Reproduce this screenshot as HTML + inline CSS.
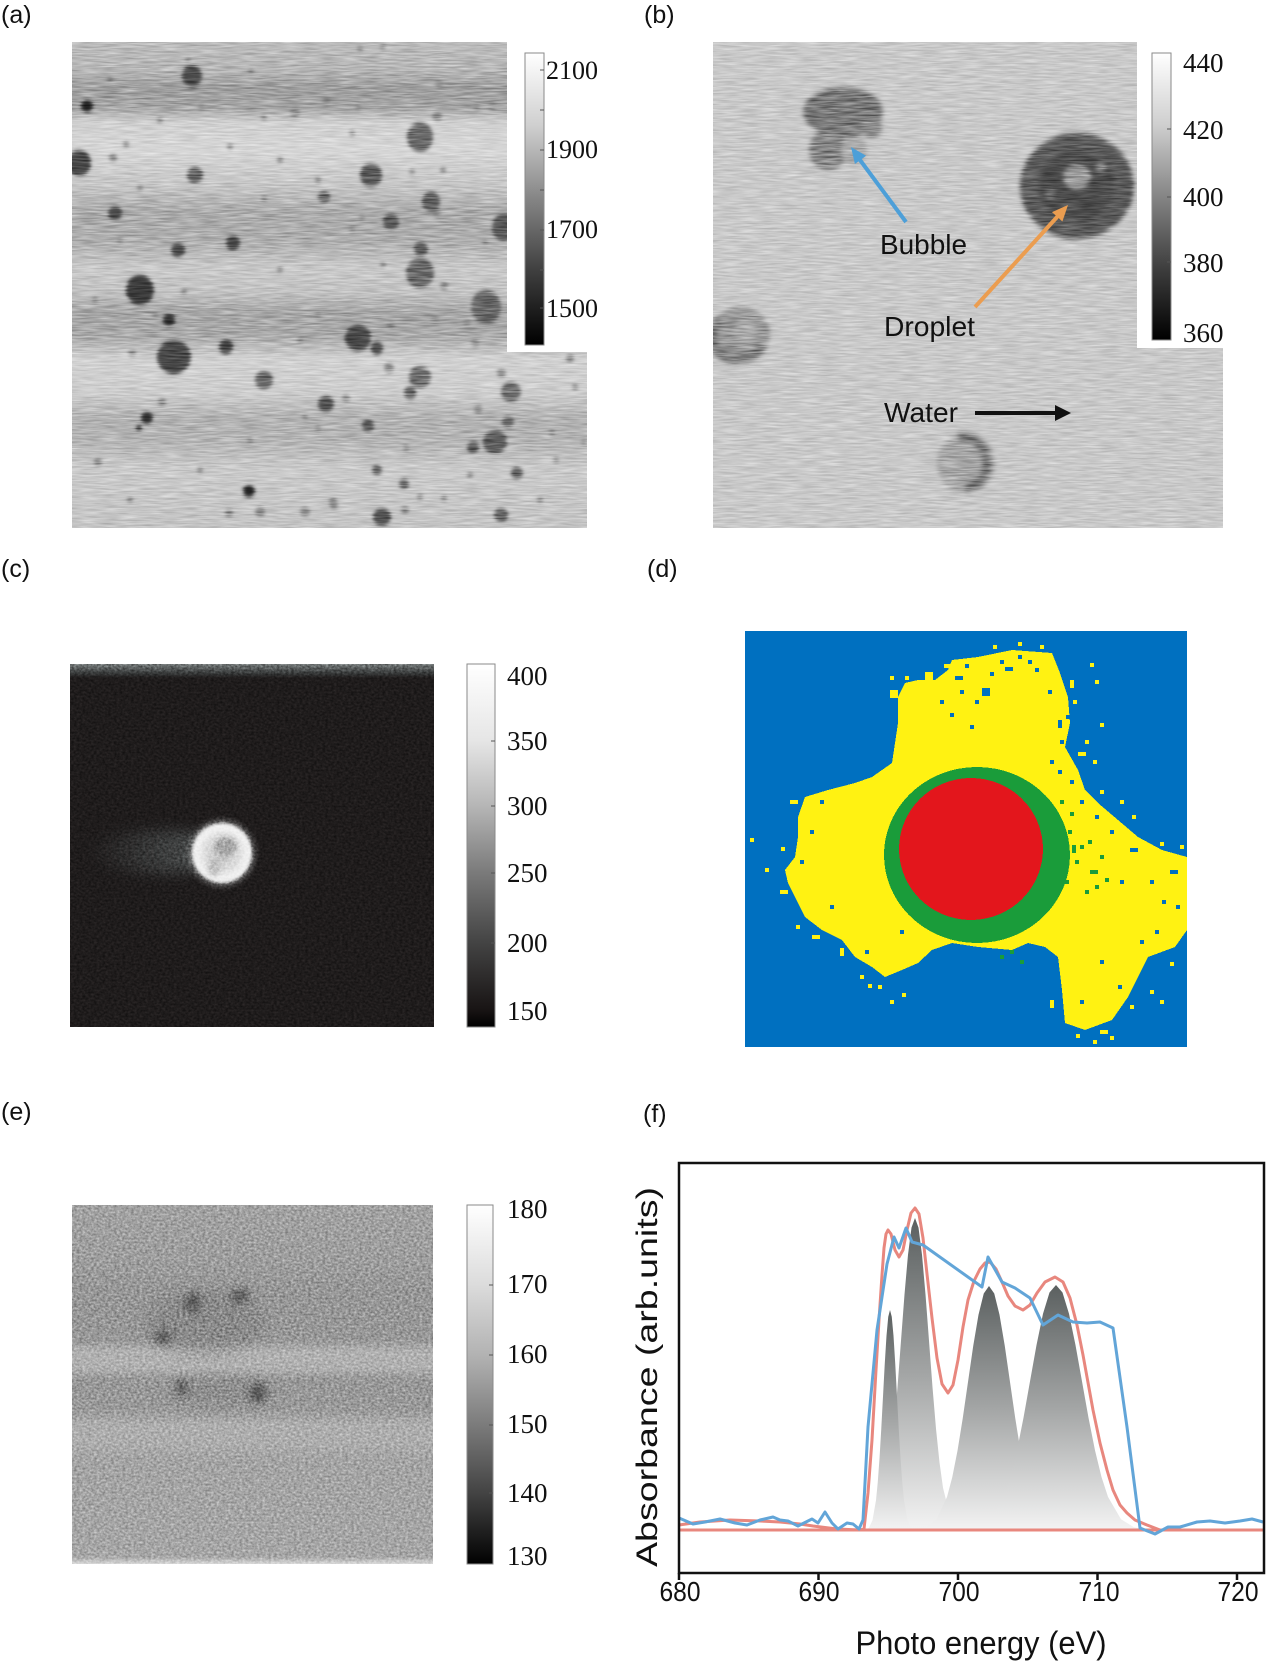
<!DOCTYPE html>
<html><head><meta charset="utf-8">
<style>
html,body{margin:0;padding:0;background:#fff;}
svg{display:block;}
.sans{font-family:"Liberation Sans",Arial,sans-serif;}
.serif{font-family:"Liberation Serif","Times New Roman",serif;}
</style></head>
<body>
<svg width="1269" height="1663" viewBox="0 0 1269 1663" xmlns="http://www.w3.org/2000/svg">
<defs>
  <filter id="nzH" x="0" y="0" width="1" height="1" color-interpolation-filters="sRGB">
    <feTurbulence type="fractalNoise" baseFrequency="0.05 0.6" numOctaves="2" seed="7" result="t"/>
    <feColorMatrix in="t" type="matrix" values="1 0 0 0 0  1 0 0 0 0  1 0 0 0 0  0 0 0 0 1" result="g"/>
    <feComponentTransfer in="g" result="g2">
      <feFuncR type="linear" slope="0.6" intercept="0.2"/>
      <feFuncG type="linear" slope="0.6" intercept="0.2"/>
      <feFuncB type="linear" slope="0.6" intercept="0.2"/>
    </feComponentTransfer>
    <feBlend in="g2" in2="SourceGraphic" mode="overlay" result="b"/>
    <feComposite in="b" in2="SourceGraphic" operator="in"/>
  </filter>
  <filter id="nzE" x="0" y="0" width="1" height="1" color-interpolation-filters="sRGB">
    <feTurbulence type="fractalNoise" baseFrequency="0.35 0.5" numOctaves="2" seed="3" result="t"/>
    <feColorMatrix in="t" type="matrix" values="1 0 0 0 0  1 0 0 0 0  1 0 0 0 0  0 0 0 0 1" result="g"/>
    <feComponentTransfer in="g" result="g2">
      <feFuncR type="linear" slope="0.6" intercept="0.2"/>
      <feFuncG type="linear" slope="0.6" intercept="0.2"/>
      <feFuncB type="linear" slope="0.6" intercept="0.2"/>
    </feComponentTransfer>
    <feBlend in="g2" in2="SourceGraphic" mode="overlay" result="b"/>
    <feComposite in="b" in2="SourceGraphic" operator="in"/>
  </filter>
  <filter id="b1" x="-50%" y="-50%" width="200%" height="200%"><feGaussianBlur stdDeviation="1.3"/></filter>
  <filter id="b15" x="-50%" y="-50%" width="200%" height="200%"><feGaussianBlur stdDeviation="1.8"/></filter>
  <filter id="b2" x="-50%" y="-50%" width="200%" height="200%"><feGaussianBlur stdDeviation="2.5"/></filter>
  <filter id="b4" x="-50%" y="-50%" width="200%" height="200%"><feGaussianBlur stdDeviation="4"/></filter>
  <filter id="b7" x="-50%" y="-50%" width="200%" height="200%"><feGaussianBlur stdDeviation="7"/></filter>

  <clipPath id="cA"><rect x="72" y="42" width="515" height="486"/></clipPath>
  <clipPath id="cB"><rect x="713" y="42" width="510" height="486"/></clipPath>
  <clipPath id="cC"><rect x="70" y="664" width="364" height="363"/></clipPath>
  <clipPath id="cE"><rect x="72" y="1205" width="361" height="359"/></clipPath>

  <linearGradient id="gA" x1="0" y1="0" x2="0" y2="1">
    <stop offset="0" stop-color="#bcbcbc"/>
    <stop offset="0.058" stop-color="#b6b6b6"/>
    <stop offset="0.095" stop-color="#9e9e9e"/>
    <stop offset="0.136" stop-color="#a6a6a6"/>
    <stop offset="0.165" stop-color="#d0d0d0"/>
    <stop offset="0.223" stop-color="#d6d6d6"/>
    <stop offset="0.295" stop-color="#c6c6c6"/>
    <stop offset="0.351" stop-color="#ababab"/>
    <stop offset="0.408" stop-color="#aeaeae"/>
    <stop offset="0.466" stop-color="#c9c9c9"/>
    <stop offset="0.515" stop-color="#c2c2c2"/>
    <stop offset="0.557" stop-color="#a6a6a6"/>
    <stop offset="0.604" stop-color="#a9a9a9"/>
    <stop offset="0.652" stop-color="#d1d1d1"/>
    <stop offset="0.722" stop-color="#cdcdcd"/>
    <stop offset="0.775" stop-color="#b2b2b2"/>
    <stop offset="0.821" stop-color="#b5b5b5"/>
    <stop offset="0.878" stop-color="#cacaca"/>
    <stop offset="1" stop-color="#c4c4c4"/>
  </linearGradient>
  <linearGradient id="gE" x1="0" y1="0" x2="0" y2="1">
    <stop offset="0" stop-color="#a2a2a2"/>
    <stop offset="0.153" stop-color="#9e9e9e"/>
    <stop offset="0.237" stop-color="#979797"/>
    <stop offset="0.376" stop-color="#989898"/>
    <stop offset="0.409" stop-color="#b1b1b1"/>
    <stop offset="0.454" stop-color="#b0b0b0"/>
    <stop offset="0.487" stop-color="#989898"/>
    <stop offset="0.571" stop-color="#9a9a9a"/>
    <stop offset="0.613" stop-color="#aeaeae"/>
    <stop offset="0.663" stop-color="#adadad"/>
    <stop offset="0.71" stop-color="#a4a4a4"/>
    <stop offset="0.98" stop-color="#a6a6a6"/>
    <stop offset="1" stop-color="#d8d8d8"/>
  </linearGradient>
  <linearGradient id="cbLin" x1="0" y1="0" x2="0" y2="1">
    <stop offset="0" stop-color="#ffffff"/>
    <stop offset="0.25" stop-color="#cfcfcf"/>
    <stop offset="0.5" stop-color="#858585"/>
    <stop offset="0.75" stop-color="#3e3e3e"/>
    <stop offset="1" stop-color="#000000"/>
  </linearGradient>
  <linearGradient id="cbC" x1="0" y1="0" x2="0" y2="1">
    <stop offset="0" stop-color="#ffffff"/>
    <stop offset="0.21" stop-color="#e6e6e6"/>
    <stop offset="0.39" stop-color="#b6b6b6"/>
    <stop offset="0.576" stop-color="#7a7a7a"/>
    <stop offset="0.77" stop-color="#434343"/>
    <stop offset="0.953" stop-color="#181414"/>
    <stop offset="1" stop-color="#000000"/>
  </linearGradient>
  <linearGradient id="cbE" x1="0" y1="0" x2="0" y2="1">
    <stop offset="0" stop-color="#ffffff"/>
    <stop offset="0.22" stop-color="#dcdcdc"/>
    <stop offset="0.42" stop-color="#b2b2b2"/>
    <stop offset="0.61" stop-color="#7c7c7c"/>
    <stop offset="0.80" stop-color="#444444"/>
    <stop offset="0.98" stop-color="#080808"/>
    <stop offset="1" stop-color="#000000"/>
  </linearGradient>
  <linearGradient id="topC" x1="0" y1="0" x2="0" y2="1">
    <stop offset="0" stop-color="#767b7b"/>
    <stop offset="0.6" stop-color="#3c3f3f"/>
    <stop offset="1" stop-color="#1f1c1c"/>
  </linearGradient>
  <linearGradient id="tailC" x1="0" y1="0" x2="1" y2="0">
    <stop offset="0" stop-color="#5a6060" stop-opacity="0"/>
    <stop offset="0.6" stop-color="#5a6060" stop-opacity="0.55"/>
    <stop offset="1" stop-color="#6a7070" stop-opacity="0.8"/>
  </linearGradient>
  <radialGradient id="sph" cx="0.5" cy="0.5" r="0.5">
    <stop offset="0" stop-color="#b8b8b8"/>
    <stop offset="0.55" stop-color="#dcdcdc"/>
    <stop offset="0.85" stop-color="#f2f2f2"/>
    <stop offset="1" stop-color="#e8e8e8"/>
  </radialGradient>
  <linearGradient id="pk" x1="0" y1="0" x2="0" y2="1">
    <stop offset="0" stop-color="#5b6060"/>
    <stop offset="0.5" stop-color="#a3a5a5"/>
    <stop offset="1" stop-color="#f3f3f3"/>
  </linearGradient>
</defs>

<rect x="0" y="0" width="1269" height="1663" fill="#ffffff"/>

<!-- ================= (a) ================= -->
<g clip-path="url(#cA)">
<g filter="url(#nzH)">
  <rect x="72" y="42" width="515" height="486" fill="url(#gA)"/>
  <g filter="url(#b15)">
    <g fill="#8c8c8c">
      <circle cx="360" cy="49" r="3"/><circle cx="383" cy="47" r="3"/><circle cx="188" cy="60" r="3"/>
      <circle cx="251" cy="71" r="3"/><circle cx="439" cy="84" r="4"/><circle cx="326" cy="102" r="4"/>
      <circle cx="295" cy="112" r="5"/><circle cx="201" cy="107" r="3"/><circle cx="358" cy="107" r="3"/>
      <circle cx="492" cy="106" r="4"/><circle cx="477" cy="107" r="3"/><circle cx="264" cy="117" r="3"/>
      <circle cx="437" cy="116" r="5"/><circle cx="126" cy="144" r="3"/><circle cx="352" cy="133" r="3"/>
      <circle cx="230" cy="147" r="3"/><circle cx="113" cy="158" r="4"/><circle cx="412" cy="172" r="3"/>
      <circle cx="443" cy="170" r="3"/><circle cx="318" cy="180" r="3"/><circle cx="140" cy="188" r="3"/>
      <circle cx="264" cy="199" r="3"/><circle cx="437" cy="213" r="4"/><circle cx="362" cy="218" r="3"/>
      <circle cx="352" cy="230" r="3"/><circle cx="485" cy="243" r="3"/><circle cx="383" cy="265" r="3"/>
      <circle cx="444" cy="286" r="4"/><circle cx="184" cy="292" r="3"/><circle cx="435" cy="320" r="4"/>
      <circle cx="391" cy="325" r="4"/><circle cx="467" cy="323" r="4"/><circle cx="155" cy="315" r="3"/>
      <circle cx="318" cy="315" r="3"/><circle cx="132" cy="353" r="4"/><circle cx="475" cy="343" r="4"/>
      <circle cx="570" cy="358" r="4"/><circle cx="347" cy="398" r="3"/><circle cx="502" cy="373" r="4"/>
      <circle cx="575" cy="387" r="3"/><circle cx="479" cy="408" r="3"/><circle cx="305" cy="417" r="3"/>
      <circle cx="318" cy="428" r="3"/><circle cx="552" cy="433" r="3"/><circle cx="162" cy="402" r="4"/>
      <circle cx="406" cy="448" r="3"/><circle cx="556" cy="460" r="3"/><circle cx="98" cy="462" r="4"/>
      <circle cx="420" cy="497" r="3"/><circle cx="444" cy="498" r="3"/><circle cx="333" cy="502" r="4"/>
      <circle cx="405" cy="510" r="4"/><circle cx="584" cy="442" r="3"/><circle cx="478" cy="410" r="4"/>
      <circle cx="346" cy="398" r="4"/><circle cx="501" cy="373" r="4"/><circle cx="229" cy="513" r="4"/>
      <circle cx="260" cy="512" r="5"/><circle cx="305" cy="512" r="5"/><circle cx="334" cy="505" r="4"/>
      <circle cx="120" cy="240" r="3"/><circle cx="95" cy="300" r="3"/><circle cx="280" cy="270" r="3"/>
      <circle cx="300" cy="340" r="3"/><circle cx="250" cy="440" r="3"/><circle cx="200" cy="470" r="3"/>
      <circle cx="130" cy="500" r="3"/><circle cx="540" cy="500" r="3"/><circle cx="470" cy="475" r="3"/>
      <circle cx="280" cy="160" r="3"/><circle cx="160" cy="120" r="3"/><circle cx="110" cy="80" r="3"/>
    </g>
    <ellipse cx="192" cy="76" rx="10" ry="11" fill="#505050"/>
    <ellipse cx="87" cy="106" rx="6" ry="6" fill="#222"/>
    <ellipse cx="420" cy="137" rx="13" ry="15" fill="#6a6a6a"/>
    <ellipse cx="79" cy="163" rx="12" ry="13" fill="#4a4a4a"/>
    <ellipse cx="195" cy="175" rx="8" ry="8" fill="#606060"/>
    <ellipse cx="371" cy="175" rx="11" ry="12" fill="#5a5a5a"/>
    <ellipse cx="431" cy="202" rx="9" ry="10" fill="#626262"/>
    <ellipse cx="324" cy="197" rx="6" ry="6" fill="#6a6a6a"/>
    <ellipse cx="115" cy="213" rx="7" ry="7" fill="#4a4a4a"/>
    <ellipse cx="391" cy="222" rx="8" ry="8" fill="#555"/>
    <ellipse cx="504" cy="227" rx="12" ry="14" fill="#5a5a5a"/>
    <ellipse cx="233" cy="243" rx="7" ry="7" fill="#444"/>
    <ellipse cx="178" cy="250" rx="7" ry="7" fill="#4a4a4a"/>
    <ellipse cx="421" cy="249" rx="7" ry="7" fill="#5a5a5a"/>
    <ellipse cx="420" cy="273" rx="14" ry="15" fill="#6a6a6a"/>
    <ellipse cx="140" cy="290" rx="14" ry="15" fill="#3a3a3a"/>
    <ellipse cx="486" cy="307" rx="15" ry="17" fill="#6a6a6a"/>
    <ellipse cx="169" cy="320" rx="6" ry="6" fill="#333"/>
    <ellipse cx="358" cy="338" rx="13" ry="13" fill="#4a4a4a"/>
    <ellipse cx="377" cy="348" rx="6" ry="7" fill="#555"/>
    <ellipse cx="174" cy="357" rx="17" ry="17" fill="#4a4a4a"/>
    <ellipse cx="226" cy="347" rx="7" ry="7" fill="#4a4a4a"/>
    <ellipse cx="264" cy="380" rx="9" ry="9" fill="#6a6a6a"/>
    <ellipse cx="420" cy="377" rx="11" ry="11" fill="#6e6e6e"/>
    <ellipse cx="410" cy="393" rx="6" ry="7" fill="#666"/>
    <ellipse cx="511" cy="392" rx="10" ry="10" fill="#777"/>
    <ellipse cx="389" cy="368" rx="5" ry="5" fill="#888"/>
    <ellipse cx="326" cy="404" rx="8" ry="8" fill="#4e4e4e"/>
    <ellipse cx="147" cy="418" rx="6" ry="6" fill="#2e2e2e"/>
    <ellipse cx="139" cy="428" rx="3" ry="3" fill="#333"/>
    <ellipse cx="368" cy="426" rx="6" ry="6" fill="#555"/>
    <ellipse cx="508" cy="422" rx="6" ry="6" fill="#6a6a6a"/>
    <ellipse cx="495" cy="442" rx="12" ry="12" fill="#5e5e5e"/>
    <ellipse cx="473" cy="447" rx="6" ry="6" fill="#555"/>
    <ellipse cx="517" cy="473" rx="6" ry="6" fill="#666"/>
    <ellipse cx="377" cy="470" rx="5" ry="5" fill="#666"/>
    <ellipse cx="404" cy="484" rx="5" ry="5" fill="#666"/>
    <ellipse cx="249" cy="491" rx="6" ry="6" fill="#222"/>
    <ellipse cx="382" cy="517" rx="9" ry="9" fill="#555"/>
    <ellipse cx="501" cy="515" rx="7" ry="7" fill="#666"/>
  </g>
</g>
</g>
<rect x="507" y="0" width="120" height="352" fill="#ffffff"/>
<rect x="525" y="53" width="19" height="292" fill="url(#cbLin)" stroke="#8a8a8a" stroke-width="1"/>
<g stroke="#555" stroke-width="1">
  <line x1="540" y1="70" x2="544" y2="70"/><line x1="540" y1="110" x2="544" y2="110"/>
  <line x1="540" y1="150" x2="544" y2="150"/><line x1="540" y1="190" x2="544" y2="190"/>
  <line x1="540" y1="230" x2="544" y2="230"/><line x1="540" y1="270" x2="544" y2="270"/>
  <line x1="540" y1="308" x2="544" y2="308"/>
</g>
<g class="serif" font-size="26" fill="#111">
  <text x="546" y="79">2100</text>
  <text x="546" y="158">1900</text>
  <text x="546" y="238">1700</text>
  <text x="546" y="317">1500</text>
</g>
<text class="sans" x="1" y="23" font-size="25" fill="#111">(a)</text>

<!-- ================= (b) ================= -->
<g clip-path="url(#cB)">
<g filter="url(#nzH)">
  <rect x="713" y="42" width="510" height="486" fill="#c9c9c9"/>
  <g filter="url(#b2)">
    <ellipse cx="843" cy="112" rx="40" ry="25" fill="#7a7a7a"/>
    <ellipse cx="828" cy="150" rx="19" ry="20" fill="#858585"/>
    <ellipse cx="854" cy="150" rx="13" ry="14" fill="#a9a9a9"/>
    <ellipse cx="872" cy="128" rx="10" ry="10" fill="#8f8f8f"/>
  </g>
  <g filter="url(#b2)">
    <ellipse cx="1077" cy="186" rx="57" ry="53" fill="#5c5c5c"/>
    <ellipse cx="1077" cy="186" rx="38" ry="35" fill="#4e4e4e"/>
    <ellipse cx="1077" cy="177" rx="13" ry="12" fill="#9a9a9a"/>
    <circle cx="1101" cy="167" r="5" fill="#8a8a8a"/>
    <circle cx="1050" cy="193" r="5" fill="#7a7a7a"/>
  </g>
  <g filter="url(#b2)">
    <ellipse cx="740" cy="335" rx="30" ry="28" fill="#9a9a9a"/>
    <path d="M 720 320 A 22 22 0 0 0 740 358 A 22 22 0 0 0 762 345" fill="none" stroke="#7c7c7c" stroke-width="10"/>
    <ellipse cx="745" cy="332" rx="12" ry="11" fill="#a8a8a8"/>
  </g>
  <g filter="url(#b2)">
    <ellipse cx="966" cy="463" rx="29" ry="30" fill="#a6a6a6"/>
    <path d="M 958 437 A 25 26 0 0 1 965 489" fill="none" stroke="#747474" stroke-width="9"/>
  </g>
</g>
</g>
<rect x="1137" y="0" width="132" height="348" fill="#ffffff"/>
<rect x="1152" y="53" width="19" height="287" fill="url(#cbLin)" stroke="#8a8a8a" stroke-width="1"/>
<g stroke="#555" stroke-width="1">
  <line x1="1167" y1="129" x2="1171" y2="129"/><line x1="1167" y1="197" x2="1171" y2="197"/>
  <line x1="1167" y1="262" x2="1171" y2="262"/>
</g>
<g class="serif" font-size="27" fill="#111">
  <text x="1183" y="72">440</text>
  <text x="1183" y="139">420</text>
  <text x="1183" y="206">400</text>
  <text x="1183" y="272">380</text>
  <text x="1183" y="342">360</text>
</g>
<g class="sans" font-size="28" fill="#111">
  <text x="880" y="254" textLength="87" lengthAdjust="spacingAndGlyphs">Bubble</text>
  <text x="884" y="336" textLength="91" lengthAdjust="spacingAndGlyphs">Droplet</text>
  <text x="884" y="422" textLength="74" lengthAdjust="spacingAndGlyphs">Water</text>
</g>
<line x1="906" y1="222" x2="860" y2="160" stroke="#4d9fd8" stroke-width="4"/>
<polygon points="851,147 866.1,155.8 854.9,164" fill="#4d9fd8"/>
<line x1="975" y1="307" x2="1058" y2="216" stroke="#eb9d50" stroke-width="4"/>
<polygon points="1068,205 1062.4,221.5 1052,212.1" fill="#eb9d50"/>
<line x1="975" y1="413" x2="1056" y2="413" stroke="#111" stroke-width="4"/>
<polygon points="1071,413 1055,405 1055,421" fill="#111"/>
<text class="sans" x="644" y="23" font-size="25" fill="#111">(b)</text>

<!-- ================= (c) ================= -->
<g clip-path="url(#cC)">
<g filter="url(#nzE)">
  <rect x="70" y="664" width="364" height="363" fill="#1f1c1c"/>
  <rect x="70" y="664" width="364" height="14" fill="url(#topC)"/>
  <ellipse cx="160" cy="852" rx="72" ry="21" fill="url(#tailC)" filter="url(#b7)"/>
  <circle cx="222" cy="853" r="34" fill="#8a8a8a" opacity="0.55" filter="url(#b2)"/>
  <circle cx="222" cy="853" r="30" fill="url(#sph)" filter="url(#b1)"/>
  <ellipse cx="226" cy="846" rx="11" ry="9" fill="#9c9c9c" opacity="0.8" filter="url(#b2)"/>
  <ellipse cx="214" cy="868" rx="6" ry="8" fill="#aeaeae" opacity="0.7" filter="url(#b2)"/>
</g>
</g>
<rect x="467" y="664" width="28" height="363" fill="url(#cbC)" stroke="#8a8a8a" stroke-width="1"/>
<g stroke="#555" stroke-width="1">
  <line x1="491" y1="741" x2="495" y2="741"/><line x1="491" y1="806" x2="495" y2="806"/>
  <line x1="491" y1="873" x2="495" y2="873"/><line x1="491" y1="943" x2="495" y2="943"/>
</g>
<g class="serif" font-size="27" fill="#111">
  <text x="507" y="685">400</text>
  <text x="507" y="750">350</text>
  <text x="507" y="815">300</text>
  <text x="507" y="882">250</text>
  <text x="507" y="952">200</text>
  <text x="507" y="1020">150</text>
</g>
<text class="sans" x="1" y="577" font-size="25" fill="#111">(c)</text>

<!-- ================= (d) ================= -->
<g shape-rendering="crispEdges">
  <rect x="745" y="631" width="442" height="416" fill="#0070c0"/>
  <polygon fill="#fff212" points="952,660 978,657 1012,650 1052,653 1060,673 1068,697 1070,723 1065,747 1078,770 1085,790 1098,803 1118,820 1138,837 1162,850 1187,857 1187,930 1175,947 1148,957 1138,977 1128,997 1112,1020 1085,1030 1065,1023 1062,990 1058,957 1045,947 1028,943 1012,950 978,947 952,943 932,950 918,963 902,970 885,977 872,967 855,957 842,940 822,930 805,917 798,903 788,883 785,870 795,857 798,837 798,817 805,797 828,790 855,783 872,777 892,763 895,743 898,723 898,697 905,683 918,680 935,680 948,670"/>
  <g fill="#fff212">
    <rect x="993" y="645" width="4" height="4"/><rect x="1090" y="663" width="4" height="4"/>
    <rect x="1095" y="680" width="4" height="4"/><rect x="1100" y="723" width="4" height="4"/>
    <rect x="1085" y="740" width="4" height="4"/><rect x="1093" y="760" width="4" height="4"/>
    <rect x="1120" y="800" width="4" height="4"/><rect x="1132" y="815" width="4" height="4"/>
    <rect x="1160" y="842" width="4" height="4"/><rect x="750" y="838" width="4" height="4"/>
    <rect x="765" y="868" width="4" height="4"/><rect x="781" y="847" width="4" height="4"/>
    <rect x="796" y="925" width="4" height="4"/><rect x="890" y="1000" width="4" height="4"/>
    <rect x="902" y="993" width="4" height="4"/><rect x="878" y="985" width="4" height="4"/>
    <rect x="1150" y="990" width="4" height="4"/><rect x="1170" y="962" width="4" height="4"/>
    <rect x="1160" y="1000" width="4" height="4"/><rect x="1110" y="1036" width="4" height="4"/>
    <rect x="1093" y="1040" width="4" height="4"/><rect x="1076" y="1034" width="4" height="4"/>
    <rect x="868" y="984" width="4" height="4"/><rect x="860" y="975" width="4" height="4"/>
    <rect x="890" y="676" width="4" height="4"/><rect x="1040" y="645" width="4" height="4"/>
    <rect x="1018" y="642" width="4" height="4"/><rect x="1180" y="845" width="4" height="4"/>
    <rect x="944" y="664" width="8" height="4"/><rect x="925" y="672" width="8" height="8"/>
    <rect x="905" y="676" width="4" height="4"/><rect x="890" y="690" width="8" height="8"/>
    <rect x="1070" y="680" width="4" height="8"/><rect x="1073" y="700" width="4" height="4"/>
    <rect x="1078" y="752" width="8" height="4"/><rect x="1100" y="790" width="4" height="4"/>
    <rect x="790" y="800" width="8" height="4"/><rect x="780" y="890" width="8" height="4"/>
    <rect x="812" y="935" width="8" height="4"/><rect x="840" y="948" width="4" height="8"/>
    <rect x="1186" y="880" width="1" height="1"/><rect x="1130" y="1005" width="4" height="4"/>
    <rect x="1100" y="1030" width="8" height="4"/><rect x="1050" y="1000" width="4" height="8"/>
  </g>
  <g fill="#0070c0">
    <rect x="960" y="690" width="4" height="4"/><rect x="975" y="700" width="4" height="4"/>
    <rect x="950" y="713" width="4" height="4"/><rect x="970" y="725" width="4" height="4"/>
    <rect x="982" y="688" width="8" height="8"/><rect x="990" y="672" width="4" height="4"/>
    <rect x="1000" y="660" width="4" height="4"/><rect x="1018" y="655" width="4" height="4"/>
    <rect x="1035" y="668" width="4" height="4"/><rect x="1048" y="690" width="4" height="4"/>
    <rect x="1060" y="740" width="4" height="4"/><rect x="1058" y="770" width="4" height="4"/>
    <rect x="1070" y="780" width="4" height="4"/><rect x="1080" y="800" width="4" height="4"/>
    <rect x="1095" y="815" width="4" height="4"/><rect x="1110" y="830" width="4" height="4"/>
    <rect x="1120" y="880" width="4" height="4"/><rect x="1150" y="880" width="4" height="4"/>
    <rect x="1170" y="870" width="8" height="4"/><rect x="1162" y="900" width="4" height="4"/>
    <rect x="1140" y="940" width="4" height="4"/><rect x="820" y="800" width="4" height="4"/>
    <rect x="810" y="830" width="4" height="4"/><rect x="900" y="930" width="4" height="4"/>
    <rect x="1040" y="960" width="4" height="4"/><rect x="1080" y="1000" width="4" height="4"/>
    <rect x="965" y="664" width="4" height="4"/><rect x="1028" y="660" width="4" height="4"/>
    <rect x="1066" y="715" width="4" height="4"/><rect x="955" y="676" width="8" height="4"/>
    <rect x="1005" y="667" width="8" height="4"/><rect x="940" y="700" width="4" height="4"/>
    <rect x="1058" y="720" width="4" height="8"/><rect x="1050" y="760" width="4" height="4"/>
    <rect x="1130" y="848" width="8" height="4"/><rect x="1176" y="905" width="4" height="4"/>
    <rect x="1155" y="930" width="4" height="4"/><rect x="1100" y="960" width="4" height="4"/>
    <rect x="1118" y="985" width="4" height="4"/><rect x="830" y="905" width="4" height="4"/>
    <rect x="800" y="860" width="4" height="4"/><rect x="865" y="950" width="4" height="4"/>
  </g>
  <ellipse cx="977" cy="855" rx="93" ry="88" fill="#1a9c3a"/>
  <g fill="#1a9c3a">
    <rect x="1068" y="830" width="4" height="4"/><rect x="1080" y="845" width="4" height="4"/>
    <rect x="1075" y="860" width="4" height="4"/><rect x="1090" y="870" width="8" height="4"/>
    <rect x="1100" y="855" width="4" height="4"/><rect x="1105" y="878" width="4" height="4"/>
    <rect x="1085" y="890" width="4" height="4"/><rect x="1065" y="880" width="4" height="4"/>
    <rect x="1010" y="950" width="4" height="4"/><rect x="1000" y="955" width="4" height="4"/>
    <rect x="1020" y="960" width="4" height="4"/><rect x="1070" y="812" width="4" height="4"/>
    <rect x="1060" y="800" width="4" height="4"/><rect x="1072" y="845" width="4" height="8"/>
    <rect x="1088" y="840" width="4" height="4"/><rect x="1095" y="885" width="4" height="4"/>
  </g>
  <ellipse cx="971" cy="849" rx="72" ry="71" fill="#e3161c"/>
</g>
<text class="sans" x="647" y="577" font-size="25" fill="#111">(d)</text>

<!-- ================= (e) ================= -->
<g clip-path="url(#cE)">
<g filter="url(#nzE)">
  <rect x="72" y="1205" width="361" height="359" fill="url(#gE)"/>
  <ellipse cx="205" cy="1322" rx="60" ry="32" fill="#7c7c7c" opacity="0.45" filter="url(#b7)"/>
  <ellipse cx="220" cy="1392" rx="55" ry="14" fill="#7c7c7c" opacity="0.35" filter="url(#b7)"/>
  <g filter="url(#b4)">
    <ellipse cx="193" cy="1303" rx="8" ry="10" fill="#5a5a5a"/>
    <ellipse cx="240" cy="1296" rx="9" ry="7" fill="#5a5a5a"/>
    <ellipse cx="163" cy="1337" rx="8" ry="7" fill="#5a5a5a"/>
    <ellipse cx="182" cy="1388" rx="5" ry="8" fill="#555"/>
    <ellipse cx="258" cy="1393" rx="8" ry="10" fill="#555"/>
  </g>
</g>
</g>
<rect x="467" y="1205" width="26" height="359" fill="url(#cbE)" stroke="#8a8a8a" stroke-width="1"/>
<g stroke="#555" stroke-width="1">
  <line x1="489" y1="1285" x2="493" y2="1285"/><line x1="489" y1="1355" x2="493" y2="1355"/>
  <line x1="489" y1="1425" x2="493" y2="1425"/><line x1="489" y1="1493" x2="493" y2="1493"/>
</g>
<g class="serif" font-size="27" fill="#111">
  <text x="507" y="1218">180</text>
  <text x="507" y="1293">170</text>
  <text x="507" y="1363">160</text>
  <text x="507" y="1433">150</text>
  <text x="507" y="1502">140</text>
  <text x="507" y="1565">130</text>
</g>
<text class="sans" x="1" y="1120" font-size="25" fill="#111">(e)</text>

<!-- ================= (f) ================= -->
<text class="sans" x="643" y="1122" font-size="25" fill="#111">(f)</text>
<polygon fill="url(#pk)" points="866,1530 866,1529.3 873,1526.5 880,1516.3 887,1487.8 890.5,1462.5 894,1428.7 897.5,1387.2 901,1340.8 904.5,1294.5 908,1254.7 911.5,1227.6 915,1218 918.5,1227.6 922,1254.7 925.5,1294.5 929,1340.8 932.5,1387.2 936,1428.7 939.5,1462.5 943,1487.8 950,1516.3 957,1526.5 964,1529.3 964,1530"/>
<polygon fill="url(#pk)" points="865.5,1530 869,1527.6 872.5,1520.3 876,1500.2 877.75,1482.4 879.5,1458.6 881.25,1429.3 883,1396.6 884.75,1363.9 886.5,1335.8 888.25,1316.8 890,1310 891.75,1316.8 893.5,1335.8 895.25,1363.9 897,1396.6 898.75,1429.3 900.5,1458.6 902.25,1482.4 904,1500.2 907.5,1520.3 911,1527.6 914.5,1530"/>
<polygon fill="url(#pk)" points="915.5,1530 926,1527.3 936.5,1519.3 947,1497 952.25,1477.2 957.5,1450.8 962.75,1418.3 968,1382 973.25,1345.8 978.5,1314.7 983.75,1293.5 989,1286 994.25,1293.5 999.5,1314.7 1004.75,1345.8 1010,1382 1015.25,1418.3 1020.5,1450.8 1025.75,1477.2 1031,1497 1041.5,1519.3 1052,1527.3 1062.5,1530"/>
<polygon fill="url(#pk)" points="965,1530 978,1527.3 991,1519.2 1004,1496.9 1010.5,1477 1017,1450.4 1023.5,1417.8 1030,1381.4 1036.5,1345.1 1043,1313.8 1049.5,1292.5 1056,1285 1062.5,1292.5 1069,1313.8 1075.5,1345.1 1082,1381.4 1088.5,1417.8 1095,1450.4 1101.5,1477 1108,1496.9 1121,1519.2 1134,1527.3 1147,1530"/>
<line x1="679" y1="1530" x2="1263" y2="1530" stroke="#e8877e" stroke-width="3"/>
<polyline fill="none" stroke="#e8877e" stroke-width="3" stroke-linejoin="round" points="679,1525 700,1522 730,1520 760,1521 780,1522 800,1524 813,1526 837,1529 860,1530 864,1529 868,1493 872,1440 876,1370 879,1320 882,1275 884,1248 886,1234 888,1230 891,1234 895,1250 899,1257 903,1250 907,1230 911,1213 915,1208 919,1214 923,1238 927,1274 932,1318 937,1358 942,1384 948,1393 953,1385 958,1360 963,1327 968,1300 974,1281 980,1269 985,1263 990,1262 996,1269 1002,1282 1008,1296 1015,1306 1023,1310 1030,1305 1037,1293 1045,1282 1055,1277 1063,1282 1070,1298 1077,1325 1083,1355 1087,1377 1093,1410 1100,1443 1107,1470 1113,1490 1120,1505 1127,1513 1135,1520 1147,1525 1160,1530"/>
<polyline fill="none" stroke="#62a5d8" stroke-width="3" stroke-linejoin="round" points="679,1518 693,1524 705,1522 720,1519 735,1523 747,1525 760,1520 773,1517 780,1520 788,1521 798,1526 812,1519 818,1523 825,1512 832,1523 838,1529 847,1523 853,1524 859,1529 863,1520 868,1427 877,1330 887,1264 894,1237 899,1248 906,1228 912,1242 923,1245 982,1287 988,1257 1002,1282 1015,1288 1030,1298 1043,1325 1058,1315 1073,1322 1087,1323 1100,1322 1113,1328 1127,1427 1140,1528 1155,1534 1168,1527 1180,1527 1197,1522 1210,1521 1225,1523 1240,1521 1252,1519 1263,1522"/>
<rect x="679" y="1163" width="585" height="410" fill="none" stroke="#111" stroke-width="2.5"/>
<g stroke="#111" stroke-width="2.5">
  <line x1="679" y1="1573" x2="679" y2="1580"/>
  <line x1="818.5" y1="1573" x2="818.5" y2="1580"/>
  <line x1="958" y1="1573" x2="958" y2="1580"/>
  <line x1="1097.5" y1="1573" x2="1097.5" y2="1580"/>
  <line x1="1237" y1="1573" x2="1237" y2="1580"/>
</g>
<g class="sans" font-size="28" fill="#111" text-anchor="middle">
  <text x="680" y="1601" textLength="41" lengthAdjust="spacingAndGlyphs">680</text>
  <text x="819" y="1601" textLength="41" lengthAdjust="spacingAndGlyphs">690</text>
  <text x="959" y="1601" textLength="41" lengthAdjust="spacingAndGlyphs">700</text>
  <text x="1099" y="1601" textLength="41" lengthAdjust="spacingAndGlyphs">710</text>
  <text x="1238" y="1601" textLength="41" lengthAdjust="spacingAndGlyphs">720</text>
</g>
<text class="sans" x="981" y="1654" font-size="32" fill="#111" text-anchor="middle" textLength="251" lengthAdjust="spacingAndGlyphs">Photo energy (eV)</text>
<text class="sans" transform="translate(657,1377) rotate(-90)" font-size="30" fill="#111" text-anchor="middle" textLength="380" lengthAdjust="spacingAndGlyphs">Absorbance (arb.units)</text>
</svg>
</body></html>
